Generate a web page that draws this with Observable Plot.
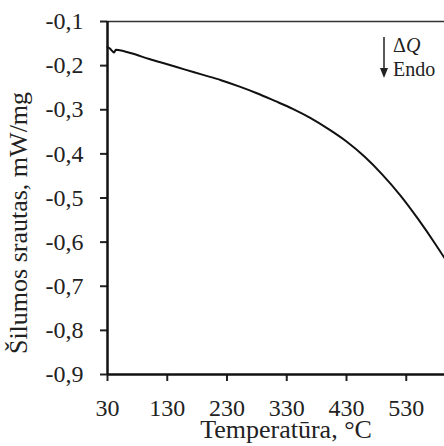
<!DOCTYPE html>
<html><head><meta charset="utf-8">
<script src="https://cdn.jsdelivr.net/npm/d3@7"></script>
<script src="https://cdn.jsdelivr.net/npm/@observablehq/plot@0.6"></script>
<style>
html,body{margin:0;padding:0;background:#fff;overflow:hidden;}
#chart svg g[aria-label="x-axis tick label"], #chart svg g[aria-label="y-axis tick label"] {font-size:24px;}
</style>
</head><body><div id="chart"></div>
<script>
// Temperature (°C)
const temperature = [30, 34, 38, 41, 44, 50, 70, 100, 130, 160, 190, 220, 250, 280, 310, 340, 370, 400, 430, 460, 490, 520, 550, 580, 594];
// Heat flow (mW/mg)
const heatFlow = [-0.158, -0.161, -0.167, -0.170, -0.164, -0.165, -0.172, -0.185, -0.197, -0.209, -0.221, -0.233, -0.247, -0.2625, -0.280, -0.298, -0.319, -0.344, -0.372, -0.406, -0.447, -0.494, -0.548, -0.607, -0.636];
const xTicks = [30, 130, 230, 330, 430, 530];
const yTicks = [-0.9, -0.8, -0.7, -0.6, -0.5, -0.4, -0.3, -0.2, -0.1];
const xLabel = "Temperatūra, °C";
const yLabel = "Šilumos srautas, mW/mg";
const annDelta = "Δ";
const annQ = "Q";
const annEndo = "Endo";

const data = temperature.map((t, i) => ({t, q: heatFlow[i]}));
const fmt = d => d.toFixed(1).replace(".", ",");
const serif = "'Liberation Serif', 'Times New Roman', serif";

const annotation = (index, scales, values, dims) => {
  const g = d3.create("svg:g")
    .attr("font-family", serif).attr("font-size", 20).attr("fill", "#222")
    .attr("text-anchor", "start");
  const ax = dims.width - dims.marginRight - 60;
  const top = dims.marginTop;
  g.append("line").attr("x1", ax).attr("x2", ax).attr("y1", top + 16).attr("y2", top + 50)
    .attr("stroke", "#222").attr("stroke-width", 1.5);
  g.append("path").attr("d", `M${ax - 4},${top + 47}L${ax + 4},${top + 47}L${ax},${top + 57}Z`).attr("fill", "#222");
  const t1 = g.append("text").attr("x", ax + 9).attr("y", top + 31).attr("text-anchor", "start");
  t1.append("tspan").text(annDelta);
  t1.append("tspan").attr("font-style", "italic").text(annQ);
  g.append("text").attr("x", ax + 9).attr("y", top + 55).attr("text-anchor", "start").text(annEndo);
  return g.node();
};

const chart = Plot.plot({
  width: 444, height: 446,
  marginLeft: 107, marginRight: 0, marginTop: 21, marginBottom: 72,
  style: {fontFamily: serif, fontSize: "24px", color: "#222", background: "#fff"},
  x: {domain: [30, 594], label: null},
  y: {domain: [-0.9, -0.1], label: null},
  marks: [
    Plot.axisX({ticks: xTicks, tickSize: 7, tickPadding: 17, label: null, strokeWidth: 2, fontSize: 24}),
    Plot.axisY({ticks: yTicks, tickFormat: fmt, tickSize: 7, tickPadding: 17, label: null, strokeWidth: 2, fontSize: 24}),
    Plot.ruleY([-0.1], {stroke: "#333", strokeWidth: 1.5}),
    Plot.ruleX([30], {stroke: "#111", strokeWidth: 2.5}),
    Plot.ruleY([-0.9], {stroke: "#111", strokeWidth: 2.5}),
    Plot.line(data, {x: "t", y: "q", stroke: "#111", strokeWidth: 2, curve: "monotone-x"}),
    Plot.text([xLabel], {frameAnchor: "bottom", textAnchor: "middle", lineAnchor: "middle", dx: 10, dy: 55, fontSize: 26, fill: "#222"}),
    Plot.text([yLabel], {frameAnchor: "left", textAnchor: "middle", lineAnchor: "middle", rotate: -90, dx: -89, dy: 25, fontSize: 26, fill: "#222"}),
    annotation
  ]
});
document.getElementById("chart").append(chart);
</script>
</body></html>
